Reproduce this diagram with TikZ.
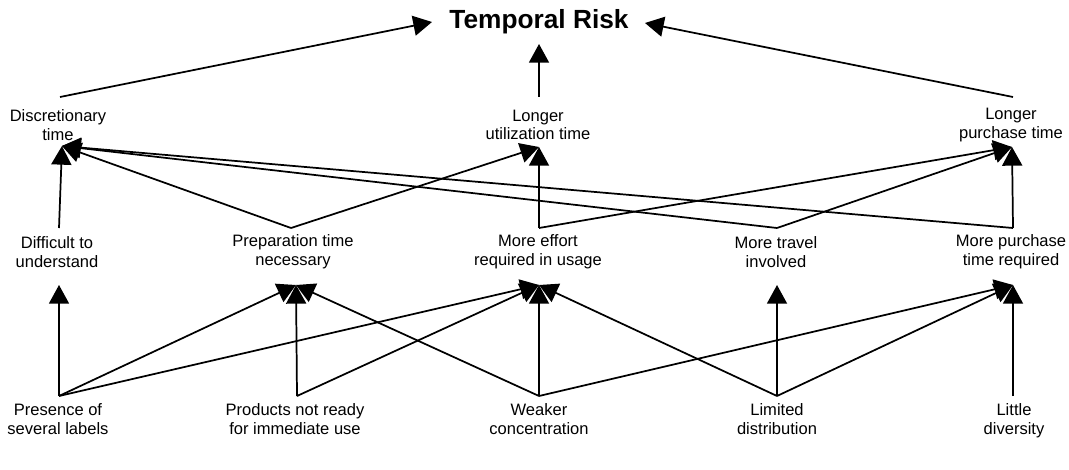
\documentclass[tikz,border=0pt]{standalone}
\usepackage{fontspec}
\setmainfont{Liberation Sans}
\usetikzlibrary{arrows.meta}
\begin{document}
\begin{tikzpicture}[x=0.75pt,y=-0.75pt,
  lbl/.style={align=center,font=\fontsize{12.4}{14}\selectfont,inner sep=0pt},
  conn/.style={line width=1.3pt,-{Triangle[length=14pt,width=15pt]}}]
\useasboundingbox (0,0) rectangle (1069,470);
% title
\node[font=\fontsize{19.7}{22}\selectfont\bfseries,inner sep=0pt] (risk) at (539,22) {Temporal Risk};
\coordinate (riskL) at (432,22);
\coordinate (riskB) at (539,44);
\coordinate (riskR) at (645,23);
% row 1
\node[lbl] (disc) at (58,125) {Discretionary\\time};
\node[lbl] (util) at (538,125) {Longer\\utilization time};
\node[lbl] (purch) at (1011,125) {Longer\\purchase time};
\coordinate (discT) at (60,97);   \coordinate (discB) at (62,146);
\coordinate (utilT) at (539,97);  \coordinate (utilB) at (539,147);
\coordinate (purchT) at (1013,97);\coordinate (purchB) at (1012,147);
% row 2
\node[lbl] (diff) at (57,252) {Difficult to\\understand};
\node[lbl] (prep) at (293,252) {Preparation time\\necessary};
\node[lbl] (effort) at (538,252) {More effort\\required in usage};
\node[lbl] (travel) at (776,252) {More travel\\involved};
\node[lbl] (mp) at (1011,252) {More purchase\\time required};
\coordinate (diffT) at (59,228);   \coordinate (diffB) at (59,285);
\coordinate (prepT) at (291,228);  \coordinate (prepB) at (296,285);
\coordinate (effortT) at (539,228);\coordinate (effortB) at (539,285);
\coordinate (travelT) at (777,228);\coordinate (travelB) at (777,285);
\coordinate (mpT) at (1013,228);   \coordinate (mpB) at (1013,285);
% row 3
\node[lbl] (pres) at (58,419) {Presence of\\several labels};
\node[lbl] (prod) at (295,419) {Products not ready\\for immediate use};
\node[lbl] (weak) at (539,419) {Weaker\\concentration};
\node[lbl] (lim) at (777,419) {Limited\\distribution};
\node[lbl] (lit) at (1014,421) {Little\\diversity};
\coordinate (presT) at (59,396);
\coordinate (prodT) at (297,396);
\coordinate (weakT) at (539,396);
\coordinate (limT) at (777,396);
\coordinate (litT) at (1013,396);
% connectors to title
\draw[conn] (discT) -- (riskL);
\draw[conn] (utilT) -- (riskB);
\draw[conn] (purchT) -- (riskR);
% row 2 -> row 1
\draw[conn] (diffT) -- (discB);
\draw[conn] (prepT) -- (discB);
\draw[conn] (travelT) -- (discB);
\draw[conn] (mpT) -- (discB);
\draw[conn] (prepT) -- (utilB);
\draw[conn] (effortT) -- (utilB);
\draw[conn] (effortT) -- (purchB);
\draw[conn] (travelT) -- (purchB);
\draw[conn] (mpT) -- (purchB);
% row 3 -> row 2
\draw[conn] (presT) -- (diffB);
\draw[conn] (presT) -- (prepB);
\draw[conn] (presT) -- (effortB);
\draw[conn] (prodT) -- (prepB);
\draw[conn] (prodT) -- (effortB);
\draw[conn] (weakT) -- (prepB);
\draw[conn] (weakT) -- (effortB);
\draw[conn] (weakT) -- (mpB);
\draw[conn] (limT) -- (effortB);
\draw[conn] (limT) -- (travelB);
\draw[conn] (limT) -- (mpB);
\draw[conn] (litT) -- (mpB);
\end{tikzpicture}
\end{document}
